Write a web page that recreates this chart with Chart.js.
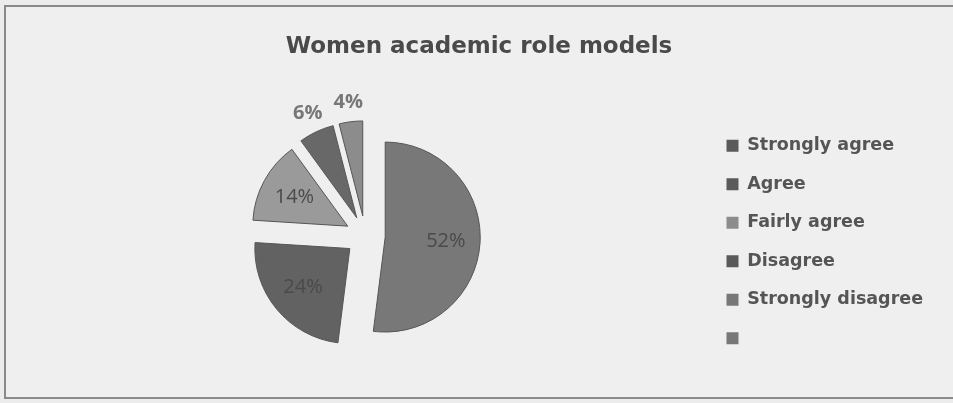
<!DOCTYPE html>
<html>
<head>
<meta charset="utf-8">
<script src="https://cdn.jsdelivr.net/npm/chart.js@4"></script>
<style>
    html, body { margin: 0; padding: 0; background: #ececec; overflow: hidden; }
    #frame {
        position: absolute; left: 4px; top: 5px; width: 960px; height: 394px;
        border: 2px solid #8a8a8a; border-right: none; box-sizing: border-box;
        background: #efefef;
    }
    #wrap { position: absolute; left: 0; top: 0; width: 953px; height: 403px; }
</style>
</head>
<body>
<div id="frame"></div>
<div id="wrap"><canvas id="graph" width="953" height="403"></canvas></div>
<script>
const categories = ['Strongly agree', 'Agree', 'Fairly agree', 'Disagree', 'Strongly disagree', ''];
const values = [52, 24, 14, 6, 4, 0];
const sliceColors = ['#787878', '#626262', '#9a9a9a', '#686868', '#8c8c8c', '#7a7a7a'];
const legendColors = ['#5a5a5a', '#5a5a5a', '#8c8c8c', '#5a5a5a', '#777777', '#777777'];

const GAP = 20; // how far each slice is pulled out, in px
const total = values.reduce((a, b) => a + b, 0);

// chart.js "offset" also grows the radius of wide slices, so pull the
// slices out ourselves: move each arc's centre along its mid angle
const explode = {
    id: 'explode',
    afterDatasetUpdate(chart, args) {
        args.meta.data.forEach(arc => {
            const mid = (arc.startAngle + arc.endAngle) / 2;
            arc.x += Math.cos(mid) * GAP;
            arc.y += Math.sin(mid) * GAP;
        });
    }
};

// percent labels: big slices inside, small ones outside above the pie
const pctLabels = {
    id: 'pctLabels',
    afterDatasetsDraw(chart) {
        const ctx = chart.ctx;
        const meta = chart.getDatasetMeta(0);
        ctx.save();
        ctx.textAlign = 'center';
        ctx.textBaseline = 'middle';
        meta.data.forEach((arc, i) => {
            if (!values[i]) return;
            const pct = Math.round(values[i] / total * 100);
            const mid = (arc.startAngle + arc.endAngle) / 2;
            let r;
            if (pct >= 10) {
                r = arc.outerRadius * 0.64;
                ctx.font = '20px "Open Sans", sans-serif';
                ctx.fillStyle = '#4a4a4a';
            } else {
                r = arc.outerRadius + 20;
                ctx.font = 'bold 20px "Open Sans", sans-serif';
                ctx.fillStyle = '#777777';
            }
            ctx.fillText(pct + '%', arc.x + Math.cos(mid) * r, arc.y + Math.sin(mid) * r);
        });
        ctx.restore();
    }
};

const ctx = document.getElementById('graph').getContext('2d');
const chart = new Chart(ctx, {
    type: 'pie',
    data: {
        labels: categories,
        datasets: [{
            data: values,
            backgroundColor: sliceColors,
            borderColor: '#555555',
            borderWidth: 1,
            radius: 95
        }]
    },
    options: {
        responsive: false,
        animation: false,
        layout: { padding: { left: 25, right: 20, top: 20, bottom: 35 } },
        plugins: {
            title: {
                display: true,
                text: 'Women academic role models',
                color: '#4a4a4a',
                font: { family: 'DejaVu Sans', size: 23, weight: 'bold' },
                padding: { top: 13, bottom: 43 }
            },
            legend: {
                position: 'right',
                align: 'end',
                labels: {
                    font: { family: 'DejaVu Sans', size: 17.5, weight: 'bold' },
                    boxWidth: 12,
                    boxHeight: 12,
                    padding: 21,
                    generateLabels(c) {
                        return categories.map((cat, i) => ({
                            text: cat,
                            fillStyle: legendColors[i],
                            strokeStyle: legendColors[i],
                            fontColor: '#555555',
                            lineWidth: 0,
                            hidden: false,
                            index: i
                        }));
                    }
                }
            },
            tooltip: { enabled: false }
        }
    },
    plugins: [explode, pctLabels]
});
</script>
</body>
</html>
